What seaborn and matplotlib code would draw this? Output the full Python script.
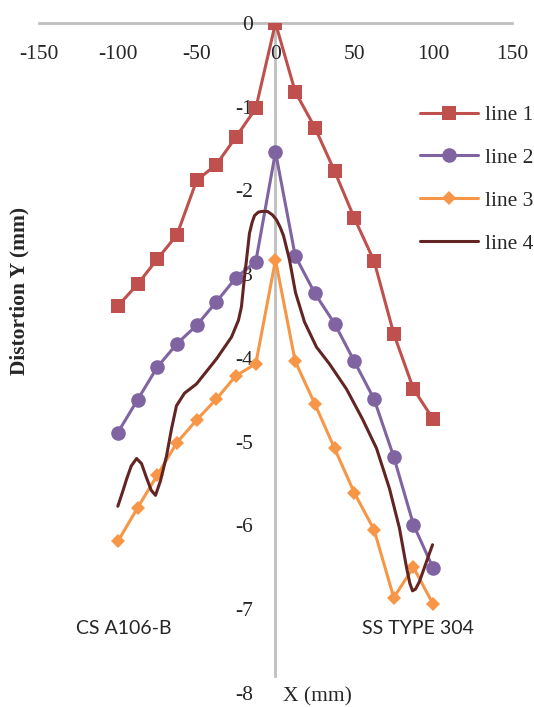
import numpy as np
import pandas as pd
import seaborn as sns
import matplotlib.pyplot as plt

# x positions of the marked series (mm)
x_marked = [-100, -87.5, -75, -62.5, -50, -37.5, -25, -12.5, 0,
            12.5, 25, 37.5, 50, 62.5, 75, 87.5, 100]

line1 = [-3.38, -3.12, -2.82, -2.53, -1.88, -1.69, -1.36, -1.02, 0,
         -0.82, -1.25, -1.77, -2.33, -2.84, -3.71, -4.37, -4.73]
line2 = [-4.89, -4.50, -4.11, -3.83, -3.61, -3.33, -3.04, -2.85, -1.54,
         -2.78, -3.23, -3.59, -4.04, -4.49, -5.18, -5.99, -6.51]
line3 = [-6.19, -5.79, -5.40, -5.01, -4.74, -4.49, -4.21, -4.07, -2.83,
         -4.04, -4.55, -5.08, -5.61, -6.05, -6.86, -6.50, -6.94]

# line 4 is a smooth curve without markers
x_line4 = [-100, -97.0, -94.5, -91.5, -88.1, -85.0, -81.8, -78.8, -76.1, -73.0,
           -69.1, -66.0, -62.8, -57.7, -50.1, -37.4, -27.9, -23.5, -21.6, -19.7,
           -18.4, -16.5, -14.8, -13.3, -11.0, -8.9, -5.1, -2.0, 0.6, 3.0,
           5.1, 8.9, 12.7, 18.4, 26.0, 34.2, 45.0, 55.2, 64.1, 72.3,
           78.6, 83.1, 85.2, 86.9, 88.8, 91.3, 95.8, 99.6]
line4 = [-5.77, -5.60, -5.45, -5.29, -5.20, -5.26, -5.43, -5.58, -5.64, -5.47,
         -5.17, -4.85, -4.57, -4.42, -4.31, -4.01, -3.75, -3.55, -3.39, -3.04,
         -2.83, -2.51, -2.38, -2.30, -2.26, -2.25, -2.25, -2.29, -2.35, -2.44,
         -2.54, -2.83, -3.22, -3.57, -3.87, -4.07, -4.37, -4.73, -5.08, -5.56,
         -6.03, -6.50, -6.69, -6.78, -6.76, -6.67, -6.43, -6.23]

x_ticks = [-150, -100, -50, 0, 50, 100, 150]
y_ticks = [0, -1, -2, -3, -4, -5, -6, -7, -8]

sns.set_style('white')
plt.rcParams['font.family'] = ['Liberation Serif', 'DejaVu Serif']

fig = plt.figure(figsize=(5.34, 7.07), dpi=100)
ax = fig.add_axes([0.073, 0.0198, 0.8858, 0.9477])

sns.lineplot(x=x_marked, y=line1, ax=ax, color='#C0504D', marker='s', markersize=10,
             markeredgewidth=0, linewidth=2.2, sort=False, estimator=None, label='line 1')
sns.lineplot(x=x_marked, y=line2, ax=ax, color='#8064A2', marker='o', markersize=10.5,
             markeredgewidth=0, linewidth=2.2, sort=False, estimator=None, label='line 2')
sns.lineplot(x=x_marked, y=line3, ax=ax, color='#F79646', marker='D', markersize=7,
             markeredgewidth=0, linewidth=2.2, sort=False, estimator=None, label='line 3')
sns.lineplot(x=x_line4, y=line4, ax=ax, color='#632523', linewidth=2.2,
             sort=False, estimator=None, label='line 4')

ax.set_xlim(-150, 150)
ax.set_ylim(-8, 0)

# axes cross at zero, like the spreadsheet chart
for side in ['top', 'right']:
    ax.spines[side].set_visible(False)
ax.spines['left'].set_position('zero')
ax.spines['bottom'].set_position('zero')
ax.spines['left'].set_bounds(-7.8, 0)
for side in ['left', 'bottom']:
    ax.spines[side].set_color('#BFBFBF')
    ax.spines[side].set_linewidth(2)
    ax.spines[side].set_zorder(0.5)

ax.set_xticks(x_ticks)
ax.set_xticklabels([str(t) for t in x_ticks])
ax.set_yticks(y_ticks)
ax.set_yticklabels([str(t) for t in y_ticks])
ax.tick_params(axis='x', length=0, pad=16, labelsize=15.5)
ax.tick_params(axis='y', length=0, pad=16, labelsize=15.5)

ax.set_ylabel('Distortion Y (mm)', fontsize=15.5, fontweight='bold', va='center')
ax.yaxis.set_label_coords(-0.042, 0.6)
ax.set_xlabel('')
ax.text(0.516, -0.006, 'X (mm)', transform=ax.transAxes, fontsize=15.5,
        ha='left', va='center')

ax.text(0.18, 0.097, 'CS A106-B', transform=ax.transAxes, fontsize=14,
        family=['Lato', 'DejaVu Sans'], color='#262626', ha='center', va='center')
ax.text(0.801, 0.097, 'SS TYPE 304', transform=ax.transAxes, fontsize=14,
        family=['Lato', 'DejaVu Sans'], color='#262626', ha='center', va='center')

ax.legend(loc='upper left', bbox_to_anchor=(0.7865, 0.8515), bbox_transform=fig.transFigure,
          frameon=False, fontsize=15.5, handlelength=2.7, handletextpad=0.3,
          labelspacing=1.06, borderpad=0, borderaxespad=0)

fig.savefig('out.png', dpi=100)
